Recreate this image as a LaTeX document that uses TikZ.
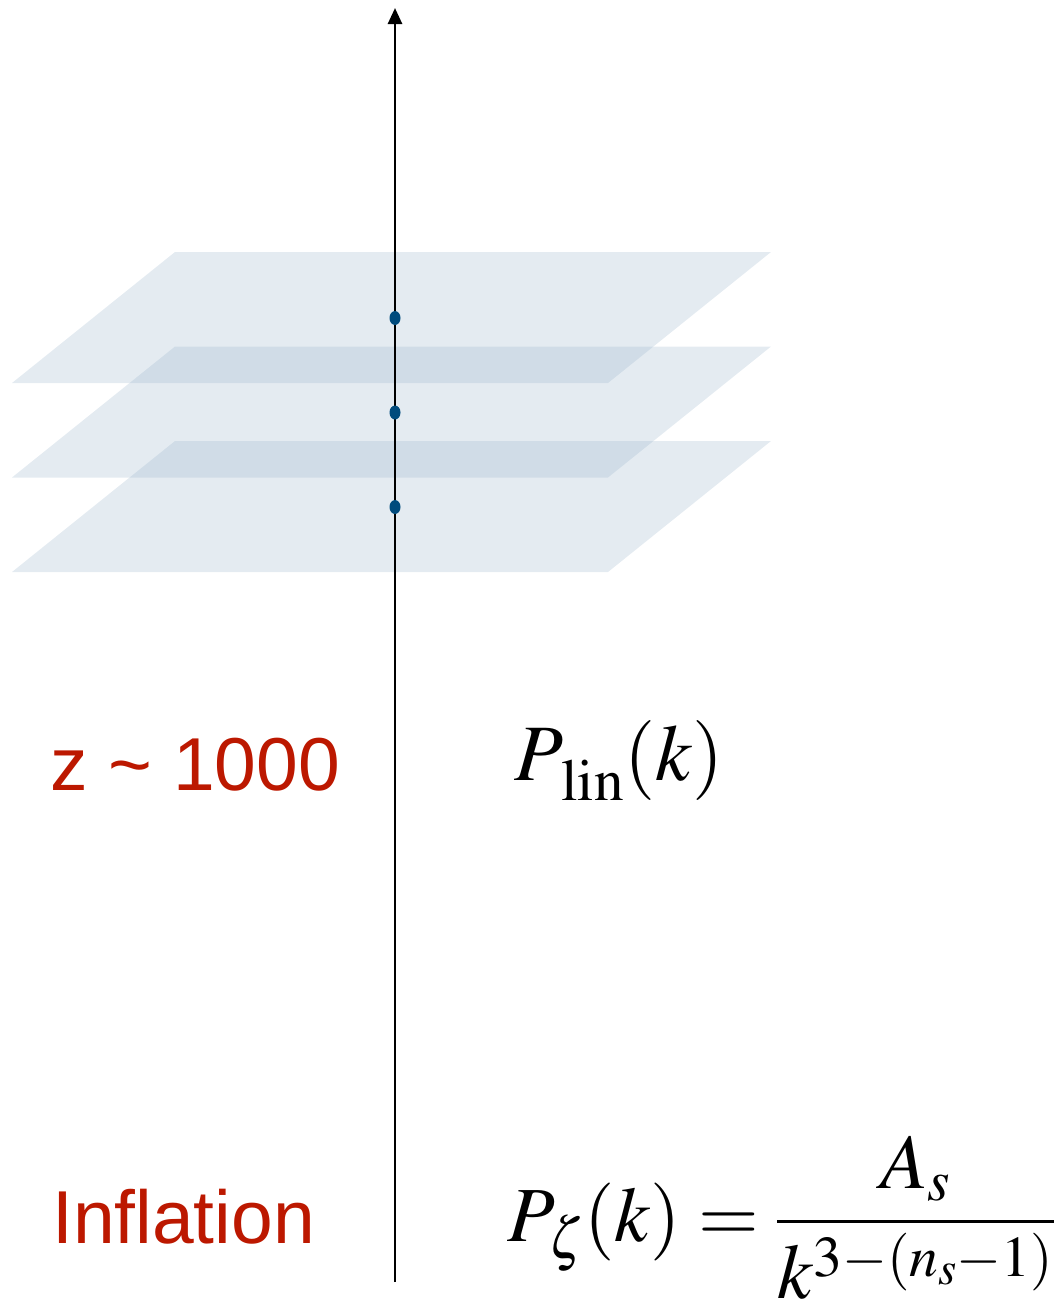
\documentclass[tikz,border=0pt]{standalone}
\usepackage{mathptmx}
\usepackage{fontspec}
\setmainfont{Liberation Serif}
\setsansfont{Liberation Sans}
\usetikzlibrary{arrows.meta,shapes.geometric}
\definecolor{planefill}{RGB}{151,178,201}
\definecolor{dotblue}{RGB}{0,75,125}
\definecolor{labelred}{RGB}{188,24,0}
\tikzset{
  plane/.style={fill=planefill,fill opacity=0.26,draw=none},
  axisline/.style={line width=2.6pt,black,-{Triangle[length=16pt,width=14pt]}},
  eventdot/.style={ellipse,fill=dotblue,inner sep=0pt,minimum width=11pt,minimum height=14pt},
  redlabel/.style={text=labelred,font=\sffamily\fontsize{75}{80}\selectfont,inner sep=0pt,anchor=base west},
  mathlabel/.style={font=\fontsize{80}{86}\selectfont,inner sep=0pt}
}
\begin{document}
\begin{tikzpicture}[x=1pt,y=-1pt]
\useasboundingbox (0,0) rectangle (1056,1302);
% planes
\foreach \dy in {0,94.5,189}{
  \path[plane] (175,252+\dy) -- (771,252+\dy) -- (608,383+\dy) -- (12,383+\dy) -- cycle;
}
\coordinate (bot) at (395,1282);
\coordinate (top) at (395,8);
\draw[axisline] (bot) -- (top);
\node[eventdot] (d1) at (395,318) {};
\node[eventdot] (d2) at (395,412.5) {};
\node[eventdot] (d3) at (395,507) {};
\node[redlabel] (zlab) at (50,790) {z \textasciitilde\ 1000};
\node[redlabel] (inf) at (52,1243) {Inflation};
\node[mathlabel,anchor=west] (plin) at (514,760) {$P_{\kern8pt\raisebox{-8pt}{$\scriptstyle\mathrm{lin}$}}(k)$};
\node[mathlabel,font=\fontsize{78}{84}\selectfont,anchor=west] (pzeta) at (507,1218) {$\displaystyle P_{\kern3pt\zeta}(k)=\frac{A_s}{k^{3-(n_s-1)}}$};
\end{tikzpicture}
\end{document}
